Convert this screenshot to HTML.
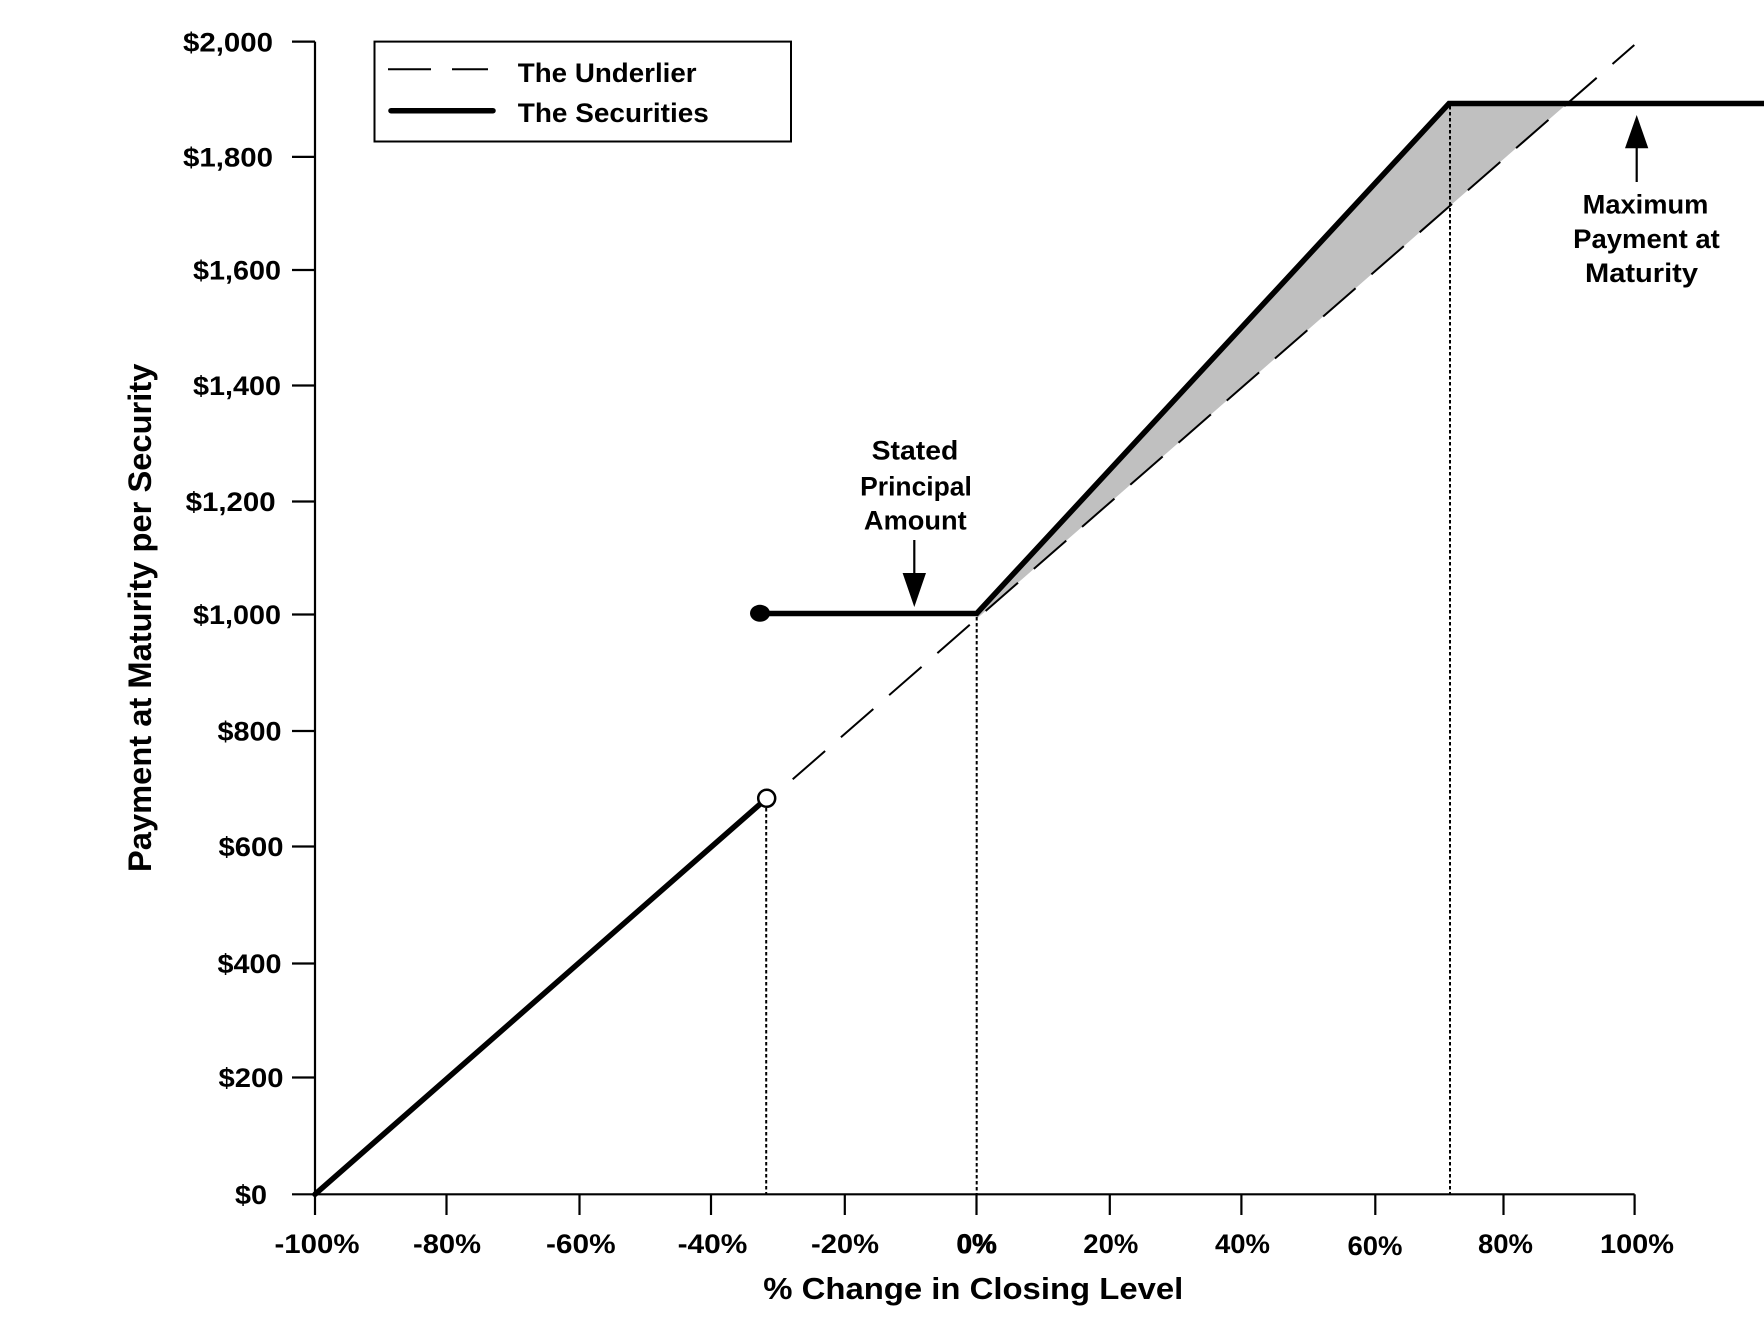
<!DOCTYPE html>
<html>
<head>
<meta charset="utf-8">
<style>
  html, body { margin: 0; padding: 0; background: #ffffff; }
  svg { display: block; }
  text { font-family: "Liberation Sans", Arial, sans-serif; font-weight: bold; fill: #000; }
</style>
</head>
<body>
<svg width="1764" height="1331" viewBox="0 0 1764 1331" xmlns="http://www.w3.org/2000/svg">
  <rect x="0" y="0" width="1764" height="1331" fill="#ffffff"/>

  <!-- Gray fill between securities and underlier -->
  <polygon points="976.7,613.5 1449,103.5 1567.3,103.5 976.7,618.8" fill="#c0c0c0"/>

  <!-- Underlier dashed line -->
  <line x1="792.7" y1="779.3" x2="1634.3" y2="45" stroke="#000" stroke-width="2" stroke-dasharray="43 21"/>

  <!-- Dotted verticals -->
  <line x1="766.2" y1="808" x2="766.2" y2="1194" stroke="#000" stroke-width="2" stroke-dasharray="3.5 2.5"/>
  <line x1="976.7" y1="617" x2="976.7" y2="1194" stroke="#000" stroke-width="2" stroke-dasharray="3.5 2.5"/>
  <line x1="1450" y1="106" x2="1450" y2="1194" stroke="#000" stroke-width="2" stroke-dasharray="3.5 2.5"/>

  <!-- Axes -->
  <line x1="315" y1="41.6" x2="315" y2="1215" stroke="#000" stroke-width="2.2"/>
  <line x1="292" y1="1194.3" x2="1634.6" y2="1194.3" stroke="#000" stroke-width="2.2"/>

  <!-- Y ticks -->
  <g stroke="#000" stroke-width="2.2">
    <line x1="292" y1="41.6" x2="315" y2="41.6"/>
    <line x1="292" y1="156.9" x2="315" y2="156.9"/>
    <line x1="292" y1="270" x2="315" y2="270"/>
    <line x1="292" y1="385.5" x2="315" y2="385.5"/>
    <line x1="292" y1="501.5" x2="315" y2="501.5"/>
    <line x1="292" y1="614.5" x2="315" y2="614.5"/>
    <line x1="292" y1="731" x2="315" y2="731"/>
    <line x1="292" y1="846.5" x2="315" y2="846.5"/>
    <line x1="292" y1="963.5" x2="315" y2="963.5"/>
    <line x1="292" y1="1077.5" x2="315" y2="1077.5"/>
  </g>

  <!-- X ticks -->
  <g stroke="#000" stroke-width="2.2">
    <line x1="446.5" y1="1194.3" x2="446.5" y2="1215"/>
    <line x1="579.5" y1="1194.3" x2="579.5" y2="1215"/>
    <line x1="711" y1="1194.3" x2="711" y2="1215"/>
    <line x1="844.8" y1="1194.3" x2="844.8" y2="1215"/>
    <line x1="976.5" y1="1194.3" x2="976.5" y2="1215"/>
    <line x1="1109.8" y1="1194.3" x2="1109.8" y2="1215"/>
    <line x1="1241.4" y1="1194.3" x2="1241.4" y2="1215"/>
    <line x1="1375.3" y1="1194.3" x2="1375.3" y2="1215"/>
    <line x1="1503.5" y1="1194.3" x2="1503.5" y2="1215"/>
    <line x1="1634.6" y1="1194.3" x2="1634.6" y2="1215"/>
  </g>

  <!-- Securities line -->
  <line x1="315" y1="1194.3" x2="766.7" y2="798.3" stroke="#000" stroke-width="5.5" stroke-linecap="round"/>
  <polyline points="760,613.5 976.7,613.5 1449,103.5 1764,103.5" fill="none" stroke="#000" stroke-width="5.5" stroke-linejoin="miter"/>
  <ellipse cx="760" cy="613.3" rx="10" ry="8.5" fill="#000"/>
  <circle cx="766.7" cy="798.3" r="8.5" fill="#fff" stroke="#000" stroke-width="2.5"/>

  <!-- Arrows -->
  <line x1="914.3" y1="540" x2="914.3" y2="576" stroke="#000" stroke-width="2.2"/>
  <polygon points="902.6,573 926,573 914.3,607" fill="#000"/>
  <line x1="1636.7" y1="182" x2="1636.7" y2="146" stroke="#000" stroke-width="2.2"/>
  <polygon points="1625,148.3 1648.3,148.3 1636.7,115" fill="#000"/>

  <!-- Annotations -->
  <g font-size="27" text-anchor="middle">
    <text x="915" y="459.6" textLength="86.7" lengthAdjust="spacingAndGlyphs">Stated</text>
    <text x="916" y="495.7" textLength="111.7" lengthAdjust="spacingAndGlyphs">Principal</text>
    <text x="915.3" y="529.4" textLength="102.7" lengthAdjust="spacingAndGlyphs">Amount</text>
    <text x="1645.5" y="213.3" textLength="125.7" lengthAdjust="spacingAndGlyphs">Maximum</text>
    <text x="1646.5" y="248" textLength="146.7" lengthAdjust="spacingAndGlyphs">Payment at</text>
    <text x="1641.5" y="282" textLength="113" lengthAdjust="spacingAndGlyphs">Maturity</text>
  </g>

  <!-- Legend -->
  <rect x="374.5" y="41.6" width="416.5" height="99.9" fill="#fff" stroke="#000" stroke-width="2"/>
  <line x1="388" y1="69.3" x2="488" y2="69.3" stroke="#000" stroke-width="2" stroke-dasharray="43 21"/>
  <line x1="391" y1="110.7" x2="493" y2="110.7" stroke="#000" stroke-width="5.5" stroke-linecap="round"/>
  <text x="517.8" y="82" font-size="27" textLength="178.8" lengthAdjust="spacingAndGlyphs">The Underlier</text>
  <text x="517.8" y="122" font-size="27" textLength="191" lengthAdjust="spacingAndGlyphs">The Securities</text>

  <!-- Y tick labels -->
  <g font-size="27">
    <text x="183" y="51.3" textLength="90" lengthAdjust="spacingAndGlyphs">$2,000</text>
    <text x="183" y="166.6" textLength="90" lengthAdjust="spacingAndGlyphs">$1,800</text>
    <text x="193" y="279.7" textLength="88" lengthAdjust="spacingAndGlyphs">$1,600</text>
    <text x="193" y="395.2" textLength="88" lengthAdjust="spacingAndGlyphs">$1,400</text>
    <text x="185.6" y="511.2" textLength="90" lengthAdjust="spacingAndGlyphs">$1,200</text>
    <text x="193" y="624.2" textLength="88" lengthAdjust="spacingAndGlyphs">$1,000</text>
    <text x="217.5" y="740.7" textLength="64" lengthAdjust="spacingAndGlyphs">$800</text>
    <text x="218.5" y="856.2" textLength="65" lengthAdjust="spacingAndGlyphs">$600</text>
    <text x="217.5" y="973.2" textLength="64" lengthAdjust="spacingAndGlyphs">$400</text>
    <text x="218.5" y="1087.2" textLength="65" lengthAdjust="spacingAndGlyphs">$200</text>
    <text x="235" y="1204" textLength="32" lengthAdjust="spacingAndGlyphs">$0</text>
  </g>

  <!-- X tick labels -->
  <g font-size="27">
    <text x="274.5" y="1253" textLength="85" lengthAdjust="spacingAndGlyphs">-100%</text>
    <text x="413" y="1253" textLength="68" lengthAdjust="spacingAndGlyphs">-80%</text>
    <text x="546" y="1253" textLength="69.6" lengthAdjust="spacingAndGlyphs">-60%</text>
    <text x="677.6" y="1253" textLength="69.8" lengthAdjust="spacingAndGlyphs">-40%</text>
    <text x="811" y="1253" textLength="68" lengthAdjust="spacingAndGlyphs">-20%</text>
    <text x="956.7" y="1253" textLength="40" lengthAdjust="spacingAndGlyphs" stroke="#000" stroke-width="0.8">0%</text>
    <text x="1083.3" y="1253" textLength="55" lengthAdjust="spacingAndGlyphs">20%</text>
    <text x="1215" y="1253" textLength="55" lengthAdjust="spacingAndGlyphs">40%</text>
    <text x="1347.5" y="1255" textLength="55" lengthAdjust="spacingAndGlyphs">60%</text>
    <text x="1478" y="1253" textLength="55" lengthAdjust="spacingAndGlyphs">80%</text>
    <text x="1600" y="1253" textLength="74" lengthAdjust="spacingAndGlyphs">100%</text>
  </g>

  <!-- Axis titles -->
  <text x="763.3" y="1299" font-size="31" textLength="420" lengthAdjust="spacingAndGlyphs">% Change in Closing Level</text>
  <text transform="translate(151,872) rotate(-90)" x="0" y="0" font-size="32" textLength="508.4" lengthAdjust="spacingAndGlyphs">Payment at Maturity per Security</text>
</svg>
</body>
</html>
